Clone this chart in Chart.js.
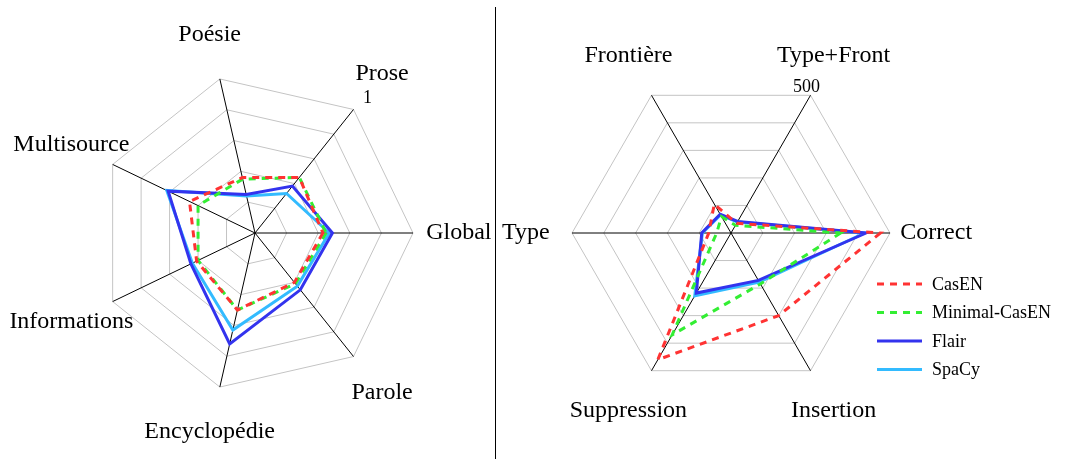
<!DOCTYPE html>
<html>
<head>
<meta charset="utf-8">
<script src="https://cdn.jsdelivr.net/npm/chart.js@4"></script>
<style>
  body { margin: 0; background: #fff; }
  #wrap { position: relative; width: 1067px; height: 459px; }
  #left { position: absolute; left: 0; top: 0; }
  #right { position: absolute; left: 497px; top: 0; }
  #divider { position: absolute; left: 495px; top: 7px; width: 1px; height: 452px; background: #000; }
</style>
</head>
<body>
<div id="wrap">
  <canvas id="left" width="496" height="459"></canvas>
  <div id="divider"></div>
  <canvas id="right" width="570" height="459"></canvas>
</div>
<script>
// categories, clockwise starting at the right-hand axis
const leftCategories = ['Global', 'Parole', 'Encyclopédie', 'Informations', 'Multisource', 'Poésie', 'Prose'];
const rightCategories = ['Correct', 'Insertion', 'Suppression', 'Type', 'Frontière', 'Type+Front'];

const seriesNames = ['CasEN', 'Minimal-CasEN', 'Flair', 'SpaCy'];

// left chart scores (0..1)
const leftCasEN   = [0.43, 0.40, 0.50, 0.41, 0.46, 0.36, 0.45];
const leftMinimal = [0.45, 0.41, 0.50, 0.40, 0.40, 0.35, 0.45];
const leftFlair   = [0.49, 0.46, 0.72, 0.45, 0.61, 0.25, 0.38];
const leftSpaCy   = [0.47, 0.43, 0.63, 0.44, 0.62, 0.24, 0.32];

// right chart counts (0..500)
const rightCasEN   = [470, 300, 460, 70, 105, 35];
const rightMinimal = [345, 185, 370, 45, 60, 28];
const rightFlair   = [425, 172, 218, 92, 68, 42];
const rightSpaCy   = [420, 178, 228, 90, 66, 40];

const leftMaxTick = '1';
const rightMaxTick = '500';

const colors = ['#f33', '#3e3', '#33e', '#3bf'];
const dashes = [[7, 6], [7, 6], [], []];

function makeDatasets(lists) {
  return lists.map((data, i) => ({
    label: seriesNames[i],
    data,
    borderColor: colors[i],
    backgroundColor: colors[i],
    borderWidth: 3,
    borderDash: dashes[i],
    pointRadius: 0,
    fill: false,
    tension: 0
  }));
}

// draws axis titles, the max tick label and (optionally) the legend
const labelsPlugin = {
  id: 'labels',
  afterDraw(chart, args, opts) {
    const ctx = chart.ctx;
    const scale = chart.scales.r;
    ctx.save();
    ctx.fillStyle = '#000';
    ctx.font = '24px "Liberation Serif", serif';
    ctx.textAlign = 'center';
    ctx.textBaseline = 'middle';
    chart.data.labels.forEach((lab, i) => {
      const p = scale.getPointPosition(i, scale.drawingArea * 1.29);
      ctx.fillText(lab, p.x, p.y);
    });
    ctx.font = '18px "Liberation Serif", serif';
    const tp = scale.getPointPosition(opts.tickIndex, scale.drawingArea);
    ctx.fillText(opts.tick, tp.x + opts.tickDx, tp.y + opts.tickDy);

    if (opts.legend) {
      ctx.textAlign = 'left';
      chart.data.datasets.forEach((ds, i) => {
        const y = 284 + i * 28.5;
        ctx.strokeStyle = ds.borderColor;
        ctx.lineWidth = 3;
        ctx.setLineDash(ds.borderDash);
        ctx.beginPath();
        ctx.moveTo(380, y);
        ctx.lineTo(425, y);
        ctx.stroke();
        ctx.fillText(ds.label, 435, y + 1);
      });
    }
    ctx.restore();
  }
};

function radarOptions(max, step, padding, labelOpts) {
  return {
    responsive: false,
    animation: false,
    layout: { padding },
    plugins: { legend: { display: false }, tooltip: { enabled: false }, labels: labelOpts },
    scales: {
      r: {
        min: 0,
        max,
        startAngle: 90,
        ticks: { display: false, stepSize: step },
        grid: { color: '#c4c4c4', lineWidth: 1 },
        angleLines: { color: '#000', lineWidth: 1 },
        pointLabels: { display: false }
      }
    }
  };
}

new Chart(document.getElementById('left'), {
  type: 'radar',
  data: {
    labels: leftCategories,
    datasets: makeDatasets([leftCasEN, leftMinimal, leftFlair, leftSpaCy])
  },
  options: radarOptions(1, 0.2, { left: 97, right: 83, top: 75, bottom: 68 },
    { tick: leftMaxTick, tickIndex: 6, tickDx: 14, tickDy: -11, legend: false }),
  plugins: [labelsPlugin]
});

new Chart(document.getElementById('right'), {
  type: 'radar',
  data: {
    labels: rightCategories,
    datasets: makeDatasets([rightCasEN, rightMinimal, rightFlair, rightSpaCy])
  },
  options: radarOptions(500, 100, { left: 75, right: 177, top: 74, bottom: 67 },
    { tick: rightMaxTick, tickIndex: 5, tickDx: -4, tickDy: -8, legend: true }),
  plugins: [labelsPlugin]
});
</script>
</body>
</html>
